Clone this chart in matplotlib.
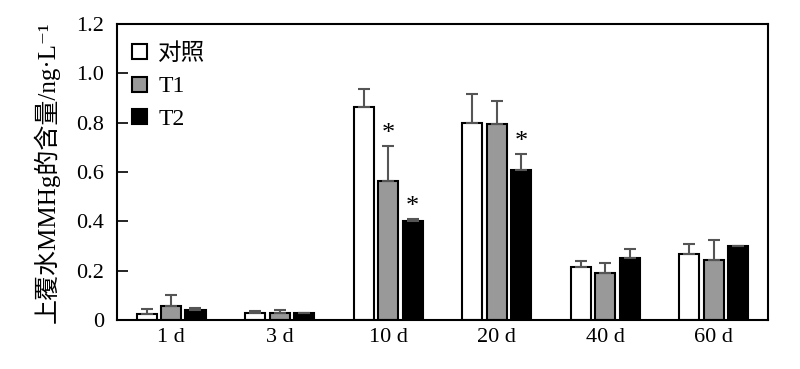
import numpy as np
import matplotlib
matplotlib.use("Agg")
import matplotlib.pyplot as plt

plt.rcParams['font.family'] = ['Liberation Serif', 'Noto Sans CJK SC', 'DejaVu Serif']

days = ["1 d", "3 d", "10 d", "20 d", "40 d", "60 d"]
ctrl = [0.022, 0.030, 0.865, 0.800, 0.216, 0.267]
ctrl_err = [0.021, 0.008, 0.070, 0.118, 0.024, 0.041]
t1 = [0.057, 0.030, 0.565, 0.795, 0.192, 0.244]
t1_err = [0.045, 0.012, 0.140, 0.093, 0.037, 0.080]
t2 = [0.039, 0.027, 0.400, 0.606, 0.253, 0.298]
t2_err = [0.010, 0.003, 0.008, 0.067, 0.035, 0.003]

# significance marks: (group, series index)
stars = [(2, 1), (2, 2), (3, 2)]

x = np.arange(len(days))
w = 0.185
off = 0.225

fig, ax = plt.subplots(figsize=(8, 3.69), dpi=100)
fig.subplots_adjust(left=0.146, right=0.96, top=0.935, bottom=0.133)

series = [(ctrl, ctrl_err, "white", "对照"),
          (t1, t1_err, "#999999", "T1"),
          (t2, t2_err, "black", "T2")]
err_kw = dict(ecolor="#555555", elinewidth=1.5, capsize=4, capthick=1.5)
for i, (vals, errs, col, lab) in enumerate(series):
    pos = x + (i - 1) * off
    ax.bar(pos, vals, width=w, color=col, edgecolor="black", linewidth=1.5,
           label=lab, yerr=[np.zeros(len(errs)), errs], error_kw=err_kw, zorder=2)

for g, s in stars:
    vals, errs = series[s][0], series[s][1]
    ax.text(x[g] + (s - 1) * off, vals[g] + errs[g] + 0.005, "*",
            ha="center", va="bottom", fontsize=19)

ax.set_xlim(-0.5, 5.5)
ax.set_ylim(0, 1.2)
ax.set_yticks([0, 0.2, 0.4, 0.6, 0.8, 1.0, 1.2])
ax.set_yticklabels(["0", "0.2", "0.4", "0.6", "0.8", "1.0", "1.2"])
ax.set_xticks(x)
ax.set_xticklabels(days)
ax.tick_params(axis="y", direction="in", length=8, width=1.2, labelsize=16, pad=9)
ax.tick_params(axis="x", length=0, labelsize=16, pad=6)
for sp in ax.spines.values():
    sp.set_linewidth(1.5)

ax.set_ylabel("上覆水MMHg的含量/ng·L⁻¹", fontsize=18, labelpad=12)

leg = ax.legend(loc="upper left", frameon=False, fontsize=17,
                handlelength=0.6, handleheight=0.6, handletextpad=0.5,
                labelspacing=0.5, borderaxespad=0.4, bbox_to_anchor=(-0.005, 1.0))

fig.savefig("out.png", dpi=100)
